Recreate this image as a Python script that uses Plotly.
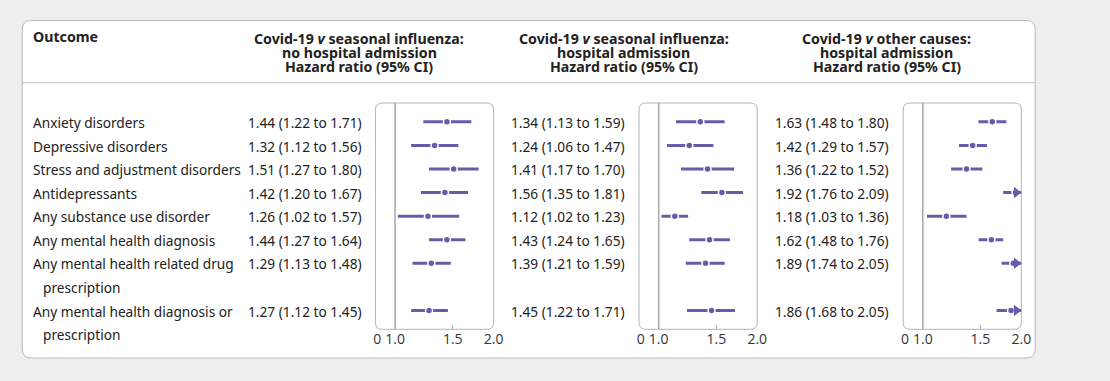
import math
import plotly.graph_objects as go

# ---------------- data ----------------
outcome_first = [
    "Anxiety disorders",
    "Depressive disorders",
    "Stress and adjustment disorders",
    "Antidepressants",
    "Any substance use disorder",
    "Any mental health diagnosis",
    "Any mental health related drug",
    "Any mental health diagnosis or",
]
outcome_second = ["", "", "", "", "", "", "prescription", "prescription"]
row_pos = [0, 1, 2, 3, 4, 5, 6, 8]

panel_titles = [
    ["Covid-19 <i>v</i> seasonal influenza:", "no hospital admission", "Hazard ratio (95% CI)"],
    ["Covid-19 <i>v</i> seasonal influenza:", "hospital admission", "Hazard ratio (95% CI)"],
    ["Covid-19 <i>v</i> other causes:", "hospital admission", "Hazard ratio (95% CI)"],
]

hr_1 = [1.44, 1.32, 1.51, 1.42, 1.26, 1.44, 1.29, 1.27]
lo_1 = [1.22, 1.12, 1.27, 1.20, 1.02, 1.27, 1.13, 1.12]
hi_1 = [1.71, 1.56, 1.80, 1.67, 1.57, 1.64, 1.48, 1.45]

hr_2 = [1.34, 1.24, 1.41, 1.56, 1.12, 1.43, 1.39, 1.45]
lo_2 = [1.13, 1.06, 1.17, 1.35, 1.02, 1.24, 1.21, 1.22]
hi_2 = [1.59, 1.47, 1.70, 1.81, 1.23, 1.65, 1.59, 1.71]

hr_3 = [1.63, 1.42, 1.36, 1.92, 1.18, 1.62, 1.89, 1.86]
lo_3 = [1.48, 1.29, 1.22, 1.76, 1.03, 1.48, 1.74, 1.68]
hi_3 = [1.80, 1.57, 1.52, 2.09, 1.36, 1.76, 2.05, 2.05]

tick_vals = [0.882, 1.0, 1.5, 2.0]
tick_text = ["0", "1.0", "1.5", "2.0"]
minor_tick_vals = [1.5]
ref_value = 1.0
axis_min, axis_max = 10 ** -0.06, 2.0

panels = [(hr_1, lo_1, hi_1), (hr_2, lo_2, hi_2), (hr_3, lo_3, hi_3)]

# ---------------- styling / layout ----------------
W, H = 1110, 381
PURPLE = "#6a5aa8"
TEXT = "#222222"
FONT = "Noto Sans"
TICK_FONT = "Open Sans"
BOX_GRAY = "#b4b4b4"
ROW_SIZE = 13.7
HEAD_SIZE = 14.2

box_left = [377.5, 644.0, 911.0]
box_w = 119.5
box_top, box_bot = 103.0, 329.3
y_top, y_bot = -0.8, 8.8
hr_text_x = [248, 514, 780]
title_cx = [361, 628.5, 894.5]
title_y = [38.3, 52.5, 66.8]


def px(x):
    return x / W


def py(y):
    return 1 - y / H


def row_y(r):
    unit = (box_bot - box_top) / (y_bot - y_top)
    return py(box_top + (r - y_top) * unit)


def rrect(x0, y0, x1, y1, r):
    pts = [
        f"M{px(x0 + r)},{py(y0)}",
        f"L{px(x1 - r)},{py(y0)}",
        f"Q{px(x1)},{py(y0)} {px(x1)},{py(y0 + r)}",
        f"L{px(x1)},{py(y1 - r)}",
        f"Q{px(x1)},{py(y1)} {px(x1 - r)},{py(y1)}",
        f"L{px(x0 + r)},{py(y1)}",
        f"Q{px(x0)},{py(y1)} {px(x0)},{py(y1 - r)}",
        f"L{px(x0)},{py(y0 + r)}",
        f"Q{px(x0)},{py(y0)} {px(x0 + r)},{py(y0)}",
        "Z",
    ]
    return " ".join(pts)


def text_ann(x, y, text, size, anchor="left"):
    return dict(xref="paper", yref="paper", x=x, y=y, xanchor=anchor, yanchor="middle",
                text=text, showarrow=False, borderpad=0,
                font=dict(family=FONT, size=size, color=TEXT))


fig = go.Figure()

shapes = [
    dict(type="path", xref="paper", yref="paper", path=rrect(20.5, 20.5, 1044.5, 358, 9),
         fillcolor="white", line=dict(color="#b9b9b9", width=1), layer="below"),
    dict(type="line", xref="paper", yref="paper", x0=px(20.5), x1=px(1044.5),
         y0=py(82.7), y1=py(82.7), line=dict(color="#c4c4c4", width=1), layer="below"),
]
annotations = []

# header
annotations.append(text_ann(px(30.5), py(36), "<b>Outcome</b>", HEAD_SIZE))
for i in range(3):
    for j, line in enumerate(panel_titles[i]):
        annotations.append(text_ann(px(title_cx[i]), py(title_y[j]), f"<b>{line}</b>",
                                    HEAD_SIZE, anchor="center"))

# outcome labels
for k, r in enumerate(row_pos):
    annotations.append(text_ann(px(30.5), row_y(r) - 0.6 / H, outcome_first[k], ROW_SIZE))
    if outcome_second[k]:
        annotations.append(text_ann(px(40), row_y(r + 1) - 0.6 / H, outcome_second[k], ROW_SIZE))

layout_axes = {}
for i, (hr, lo, hi) in enumerate(panels):
    xa = "x" if i == 0 else f"x{i + 1}"
    xname = "xaxis" if i == 0 else f"xaxis{i + 1}"
    layout_axes[xname] = dict(
        domain=[px(box_left[i]), px(box_left[i] + box_w)],
        type="log",
        range=[math.log10(axis_min), math.log10(axis_max)],
        anchor="y",
        tickvals=tick_vals, ticktext=tick_text, ticks="",
        showgrid=False, zeroline=False, showline=False,
        tickfont=dict(family=TICK_FONT, size=14, color="#333333"),
        minor=dict(tickvals=minor_tick_vals, ticks="inside", ticklen=4,
                   tickcolor="#a8a8a8", tickwidth=1, showgrid=False),
        fixedrange=True,
    )
    # panel box
    shapes.append(dict(type="path", xref="paper", yref="paper",
                       path=rrect(box_left[i], box_top, box_left[i] + box_w, box_bot, 7),
                       line=dict(color=BOX_GRAY, width=1), fillcolor="rgba(0,0,0,0)",
                       layer="below"))
    # reference line at HR = 1
    shapes.append(dict(type="line", xref=xa, yref="y domain", x0=ref_value, x1=ref_value,
                       y0=0, y1=1, line=dict(color="#a6a6a6", width=1.5), layer="below"))

    # CI lines
    lx, ly = [], []
    for k, r in enumerate(row_pos):
        lx += [lo[k], min(hi[k], axis_max), None]
        ly += [r, r, None]
    fig.add_trace(go.Scatter(x=lx, y=ly, mode="lines", xaxis=xa, yaxis="y",
                             line=dict(color=PURPLE, width=3), hoverinfo="skip",
                             showlegend=False))
    # point estimates
    fig.add_trace(go.Scatter(x=hr, y=row_pos, mode="markers", xaxis=xa, yaxis="y",
                             marker=dict(symbol="circle", size=7, color=PURPLE,
                                         line=dict(color="white", width=1.5)),
                             hoverinfo="skip", showlegend=False, cliponaxis=False))
    # arrows for truncated CIs
    tri_size = 10
    span = math.log10(axis_max) - math.log10(axis_min)
    arrow_x = axis_max * 10 ** (-(tri_size / 2) / box_w * span)
    ax_, ay_ = [], []
    for k, r in enumerate(row_pos):
        if hi[k] > axis_max:
            ax_.append(arrow_x)
            ay_.append(r)
    if ax_:
        fig.add_trace(go.Scatter(x=ax_, y=ay_, mode="markers", xaxis=xa, yaxis="y",
                                 marker=dict(symbol="triangle-right", size=tri_size, color=PURPLE,
                                             line=dict(width=0)),
                                 hoverinfo="skip", showlegend=False, cliponaxis=False))
    # HR text
    for k, r in enumerate(row_pos):
        annotations.append(text_ann(px(hr_text_x[i]), row_y(r) - 0.6 / H,
                                    f"{hr[k]:.2f} ({lo[k]:.2f} to {hi[k]:.2f})", ROW_SIZE))

fig.update_layout(
    width=W, height=H, autosize=False,
    margin=dict(l=0, r=0, t=0, b=0),
    paper_bgcolor="#eeeeee", plot_bgcolor="rgba(0,0,0,0)",
    yaxis=dict(domain=[py(box_bot), py(box_top)], range=[y_bot, y_top], visible=False,
               fixedrange=True),
    shapes=shapes, annotations=annotations,
    font=dict(family=FONT, color=TEXT),
    **layout_axes,
)

fig.write_html("out.html", config={"displayModeBar": False},
               post_script="document.body.style.margin='0';")
